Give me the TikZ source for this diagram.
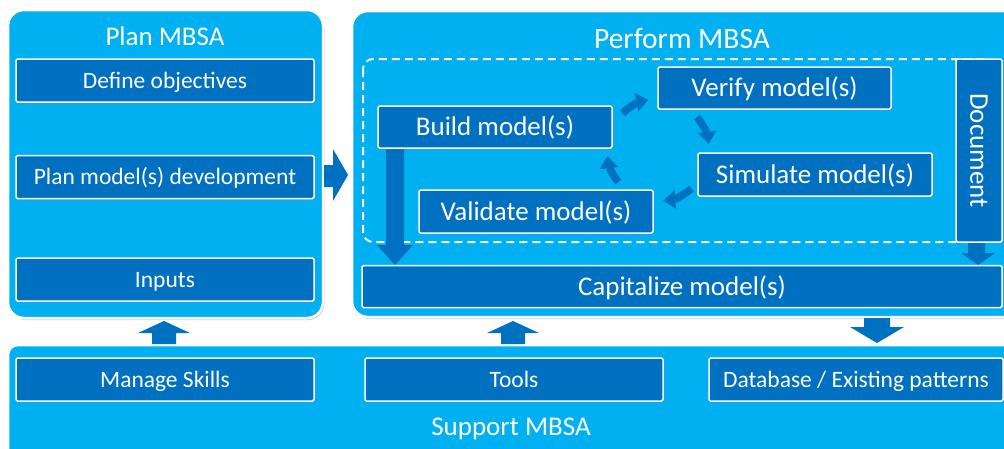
\documentclass[tikz,border=0pt]{standalone}
\usepackage{fontspec}
\setmainfont{Carlito}
\usetikzlibrary{shadows,arrows.meta}
\definecolor{skyfill}{HTML}{00B0F0}
\definecolor{taskfill}{HTML}{0070C0}
\begin{document}
\begin{tikzpicture}[x=1pt,y=-1pt,
  panel/.style={draw=white, line width=2.5pt, fill=skyfill,
    drop shadow={opacity=0.35, shadow xshift=1.5pt, shadow yshift=-2pt}},
  title/.style={text=white, anchor=base, inner sep=0pt, font=\fontsize{27}{32}\selectfont},
  task/.style={draw=white, line width=1.5pt, fill=taskfill, text=white,
    rounded corners=1.5pt, inner sep=0pt, align=center,
    drop shadow={opacity=0.25, shadow xshift=1pt, shadow yshift=-1.5pt}},
  small/.style={task, font=\fontsize{23.5}{28}\selectfont, text height=15.1pt, text depth=0pt},
  large/.style={task, font=\fontsize{27}{32}\selectfont, text height=17.4pt, text depth=0pt},
  blockarrow/.style={fill=taskfill},
  cyc/.style={draw=taskfill, line width=7.5pt, -{Triangle[width=18pt,length=12pt]}},
  loop/.style={draw=white, line width=2pt, dash pattern=on 8pt off 5pt, rounded corners=10pt}
]
\useasboundingbox (0,0) rectangle (1004,448);
\begin{scope}
\clip (0,0) rectangle (1004,448);

% three phases
\path[panel, rounded corners=16pt] (8,10) rectangle (323,318);
\path[panel, rounded corners=16pt] (352,11) rectangle (1040,317);
\path[panel, rounded corners=10pt] (8,345) rectangle (1040,480);

\node[title] (plantitle) at (165,45) {Plan MBSA};
\node[title, font=\fontsize{29.5}{34}\selectfont] (perftitle) at (682,48) {Perform MBSA};
\node[title] (supptitle) at (511,435) {Support MBSA};

% planning tasks
\node[small, minimum width=298pt, minimum height=43pt] (def) at (165,80.5) {Define objectives};
\node[small, minimum width=298pt, minimum height=43pt] (pmd) at (165,177) {Plan model(s) development};
\node[small, minimum width=298pt, minimum height=43pt] (inp) at (165,279.5) {Inputs};

% modelling loop
\draw[loop] (363,59) rectangle (990,242);

% block arrows
\fill[blockarrow] (324,165) -- (333,165) -- (333,149) -- (348,175) -- (333,201) -- (333,187) -- (324,187) -- cycle;
\fill[blockarrow] (386,140) -- (404,140) -- (404,245) -- (413,245) -- (395,265) -- (377,245) -- (386,245) -- cycle;
\fill[blockarrow] (968,240) -- (985,240) -- (985,253) -- (995,253) -- (978,265) -- (961,253) -- (968,253) -- cycle;
\fill[blockarrow] (152,344) -- (176,344) -- (176,333) -- (190,333) -- (164,321) -- (138,333) -- (152,333) -- cycle;
\fill[blockarrow] (501,344) -- (525,344) -- (525,333) -- (539,333) -- (513,321) -- (487,333) -- (501,333) -- cycle;
\fill[blockarrow] (864,318) -- (890,318) -- (890,327) -- (904,327) -- (877,343) -- (850,327) -- (864,327) -- cycle;

% performing tasks
\node[large, minimum width=233pt, minimum height=42pt] (ver) at (774.5,88) {Verify model(s)};
\node[large, minimum width=234pt, minimum height=42pt] (bld) at (495,127) {Build model(s)};
\node[large, minimum width=234pt, minimum height=43pt] (sim) at (815,174.5) {Simulate model(s)};
\node[large, minimum width=234pt, minimum height=43pt] (val) at (536,211.5) {Validate model(s)};
\node[task, minimum width=46pt, minimum height=183pt] (doc) at (979,150.5) {};
\node[text=white, rotate=-90, inner sep=0pt, font=\fontsize{27}{32}\selectfont,
  text height=17.4pt, text depth=0pt] (doctext) at (doc.center) {Document};
\node[large, minimum width=640pt, minimum height=42pt] (cap) at (682,286.5) {Capitalize model(s)};

% cycle arrows around the loop
\coordinate (hub) at (658,150);
\draw[cyc] (hub) ++(226:51) arc[start angle=226, end angle=259, radius=51];
\draw[cyc] (hub) ++(320:51) arc[start angle=320, end angle=353, radius=51];
\draw[cyc] (hub) ++(49:51) arc[start angle=49, end angle=84, radius=51];
\draw[cyc] (hub) ++(141:51) arc[start angle=141, end angle=173, radius=51];

% support tasks
\node[small, minimum width=298pt, minimum height=43pt] (ms) at (165,379.5) {Manage Skills};
\node[small, minimum width=298pt, minimum height=43pt] (tools) at (514,379.5) {Tools};
\node[small, minimum width=294pt, minimum height=43pt] (db) at (856,379.5) {Database / Existing patterns};
\end{scope}
\end{tikzpicture}
\end{document}
